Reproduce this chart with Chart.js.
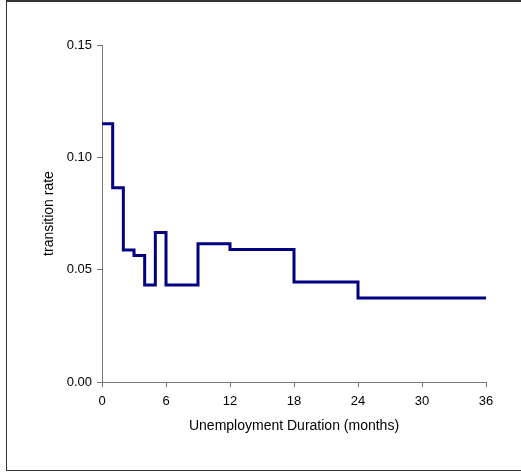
<!DOCTYPE html>
<html>
<head>
<meta charset="utf-8">
<script src="https://cdn.jsdelivr.net/npm/chart.js@4"></script>
<style>
  html, body { margin: 0; padding: 0; background: #fff; overflow: hidden; }
  #frame { position: absolute; left: 6px; top: 0px; width: 580px; height: 468px;
           border: 1px solid #333; border-top-width: 2px; }
  #myChart { position: absolute; left: 0; top: 0; }
</style>
</head>
<body>
<div id="frame"></div>
<canvas id="myChart" width="521" height="472"></canvas>
<script>
// step boundaries (months) and the rate that holds from each one
var months = [0, 1, 2, 3, 4, 5, 6, 9, 12, 18, 24, 36];
var rates = [0.115, 0.0865, 0.0588, 0.0563, 0.0432, 0.0665, 0.0432, 0.0615, 0.059, 0.0445, 0.0374, 0.0374];
var xTicks = [0, 6, 12, 18, 24, 30, 36];
var yTicks = [0.00, 0.05, 0.10, 0.15];

window.onload = function () {
    var points = months.map(function (m, i) { return { x: m, y: rates[i] }; });
    var axisColor = '#777';
    var tickFont = { family: 'Liberation Sans, Arial, sans-serif', size: 13 };
    var titleFont = { family: 'Liberation Sans, Arial, sans-serif', size: 14 };

    var ctx = document.getElementById('myChart').getContext('2d');
    var myChart = new Chart(ctx, {
        type: 'line',
        data: {
            datasets: [{
                label: 'transition rate',
                data: points,
                stepped: 'before',
                borderColor: '#000080',
                borderWidth: 3,
                pointRadius: 0,
                fill: false
            }]
        },
        options: {
            responsive: false,
            animation: false,
            layout: { padding: { left: 0, top: 45, right: 35, bottom: 0 } },
            plugins: { legend: { display: false }, tooltip: { enabled: false } },
            scales: {
                x: {
                    type: 'linear',
                    min: 0,
                    max: 36,
                    afterBuildTicks: function (scale) {
                        scale.ticks = xTicks.map(function (v) { return { value: v }; });
                    },
                    afterFit: function (scale) { scale.height = 90; },
                    grid: { display: true, drawOnChartArea: false, drawTicks: true, tickLength: 5, color: axisColor },
                    border: { display: true, color: axisColor, width: 1 },
                    ticks: { color: '#000', font: tickFont, padding: 7, maxRotation: 0 },
                    title: {
                        display: true,
                        text: 'Unemployment Duration (months)',
                        color: '#000',
                        font: titleFont,
                        padding: { top: 0, bottom: 37 }
                    }
                },
                y: {
                    min: 0,
                    max: 0.15,
                    afterBuildTicks: function (scale) {
                        scale.ticks = yTicks.map(function (v) { return { value: v }; });
                    },
                    afterFit: function (scale) { scale.width = 102; },
                    grid: { display: true, drawOnChartArea: false, drawTicks: true, tickLength: 5, color: axisColor },
                    border: { display: true, color: axisColor, width: 1 },
                    ticks: {
                        color: '#000',
                        font: tickFont,
                        padding: 5,
                        callback: function (v) { return Number(v).toFixed(2); }
                    },
                    title: {
                        display: true,
                        text: 'transition rate',
                        color: '#000',
                        font: titleFont,
                        padding: { top: 41, bottom: 0 }
                    }
                }
            }
        }
    });
};
</script>
</body>
</html>
